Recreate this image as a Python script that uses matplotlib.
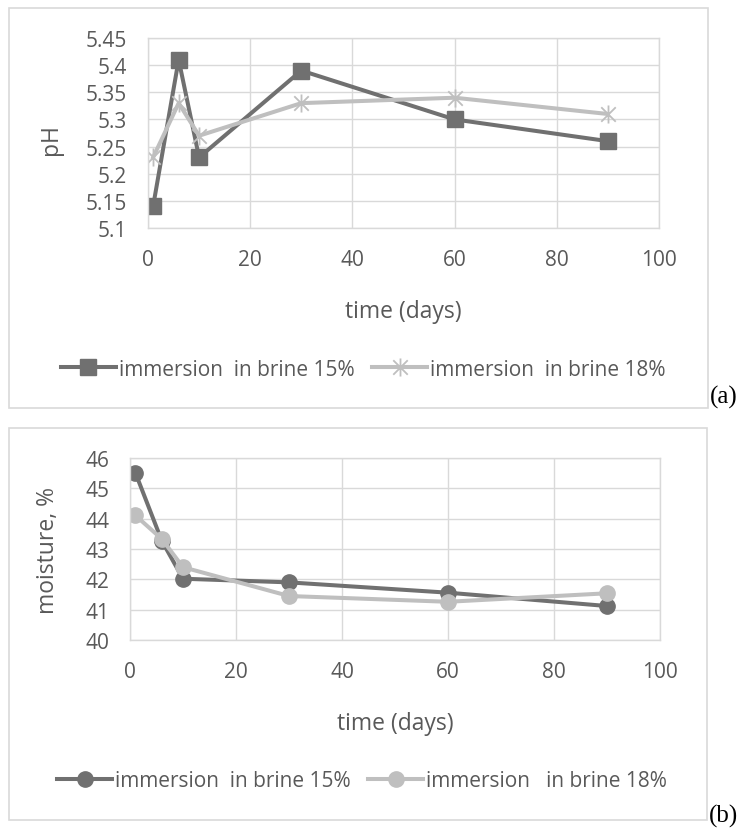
import matplotlib
matplotlib.use("Agg")
import matplotlib.pyplot as plt
from matplotlib.patches import Rectangle
from matplotlib.path import Path

plt.rcParams['font.family'] = ['Open Sans', 'DejaVu Sans']

days = [1, 6, 10, 30, 60, 90]
ph_15 = [5.14, 5.41, 5.23, 5.39, 5.30, 5.26]
ph_18 = [5.23, 5.33, 5.27, 5.33, 5.34, 5.31]
moist_15 = [45.52, 43.27, 42.02, 41.90, 41.56, 41.12]
moist_18 = [44.11, 43.33, 42.40, 41.45, 41.26, 41.54]

ph_ticks = [5.1, 5.15, 5.2, 5.25, 5.3, 5.35, 5.4, 5.45]
ph_ticklabels = ['5.1', '5.15', '5.2', '5.25', '5.3', '5.35', '5.4', '5.45']
moist_ticks = [40, 41, 42, 43, 44, 45, 46]
x_ticks = [0, 20, 40, 60, 80, 100]

legend_a = ['immersion  in brine 15%', 'immersion  in brine 18%']
legend_b = ['immersion  in brine 15%', 'immersion   in brine 18%']

W, H = 739, 829
DARK = '#707070'
LIGHT = '#bfbfbf'
GRID = '#d9d9d9'
TXT = '#595959'

# Excel-style star marker: an X plus a vertical stroke
STAR = Path([(0, -1), (0, 1), (-0.8, -0.8), (0.8, 0.8), (-0.8, 0.8), (0.8, -0.8)],
            [Path.MOVETO, Path.LINETO, Path.MOVETO, Path.LINETO, Path.MOVETO, Path.LINETO])

fig = plt.figure(figsize=(W / 100, H / 100), dpi=100)


def rect(x0, y0, x1, y1):
    return [x0 / W, 1 - y1 / H, (x1 - x0) / W, (y1 - y0) / H]


# outer boxes
for (x0, y0, x1, y1) in [(9, 9, 708, 409), (9, 429, 707, 821)]:
    fig.patches.append(Rectangle((x0 / W, 1 - y1 / H), (x1 - x0) / W, (y1 - y0) / H,
                                 transform=fig.transFigure, fill=False,
                                 edgecolor=GRID, linewidth=1.2))


def style(ax):
    ax.grid(True, color=GRID, linewidth=1.0)
    ax.set_axisbelow(True)
    for s in ax.spines.values():
        s.set_color(GRID)
        s.set_linewidth(1.0)
    ax.tick_params(length=0, labelsize=15, colors=TXT)
    ax.tick_params(axis='x', pad=15)
    ax.tick_params(axis='y', pad=15)


LEG = dict(loc='center', ncol=2, frameon=False, fontsize=15, handlelength=2.65,
           columnspacing=0.85, handletextpad=0.12, labelcolor=TXT)

# ---- (a) pH ----
ax1 = fig.add_axes(rect(148, 39, 659, 229))
ax1.plot(days, ph_15, color=DARK, lw=2.9, marker='s', ms=11, label=legend_a[0])
ax1.plot(days, ph_18, color=LIGHT, lw=2.9, marker=STAR, ms=13, mew=1.3,
         mec=LIGHT, mfc='none', label=legend_a[1])
ax1.set_xlim(0, 100)
ax1.set_ylim(5.1, 5.45)
ax1.set_xticks(x_ticks)
ax1.set_yticks(ph_ticks)
ax1.set_yticklabels(ph_ticklabels)
style(ax1)
ax1.set_xlabel('time (days)', fontsize=16.5, color=TXT)
ax1.xaxis.set_label_coords(403 / W, 1 - 300 / H, transform=fig.transFigure)
ax1.set_ylabel('pH', fontsize=16.5, color=TXT)
ax1.yaxis.set_label_coords(63 / W, 1 - 140 / H, transform=fig.transFigure)
h, l = ax1.get_legend_handles_labels()
fig.legend(h, l, bbox_to_anchor=(363 / W, 1 - 370 / H), **LEG)
fig.text(724 / W, 1 - 397 / H, '(a)', fontsize=18, family='Liberation Serif',
         ha='center', va='center', color='black')

# ---- (b) moisture ----
ax2 = fig.add_axes(rect(130, 459, 660, 641))
ax2.plot(days, moist_15, color=DARK, lw=2.9, marker='o', ms=11, label=legend_b[0])
ax2.plot(days, moist_18, color=LIGHT, lw=2.9, marker='o', ms=11, label=legend_b[1])
ax2.set_xlim(0, 100)
ax2.set_ylim(40, 46)
ax2.set_xticks(x_ticks)
ax2.set_yticks(moist_ticks)
style(ax2)
ax2.set_xlabel('time (days)', fontsize=16.5, color=TXT)
ax2.xaxis.set_label_coords(395 / W, 1 - 712 / H, transform=fig.transFigure)
ax2.set_ylabel('moisture, %', fontsize=16.5, color=TXT)
ax2.yaxis.set_label_coords(60 / W, 1 - 550 / H, transform=fig.transFigure)
h, l = ax2.get_legend_handles_labels()
fig.legend(h, l, bbox_to_anchor=(362 / W, 1 - 782 / H), **LEG)
fig.text(724 / W, 1 - 816 / H, '(b)', fontsize=18, family='Liberation Serif',
         ha='center', va='center', color='black')

fig.savefig('out.png', dpi=100, facecolor='white')
